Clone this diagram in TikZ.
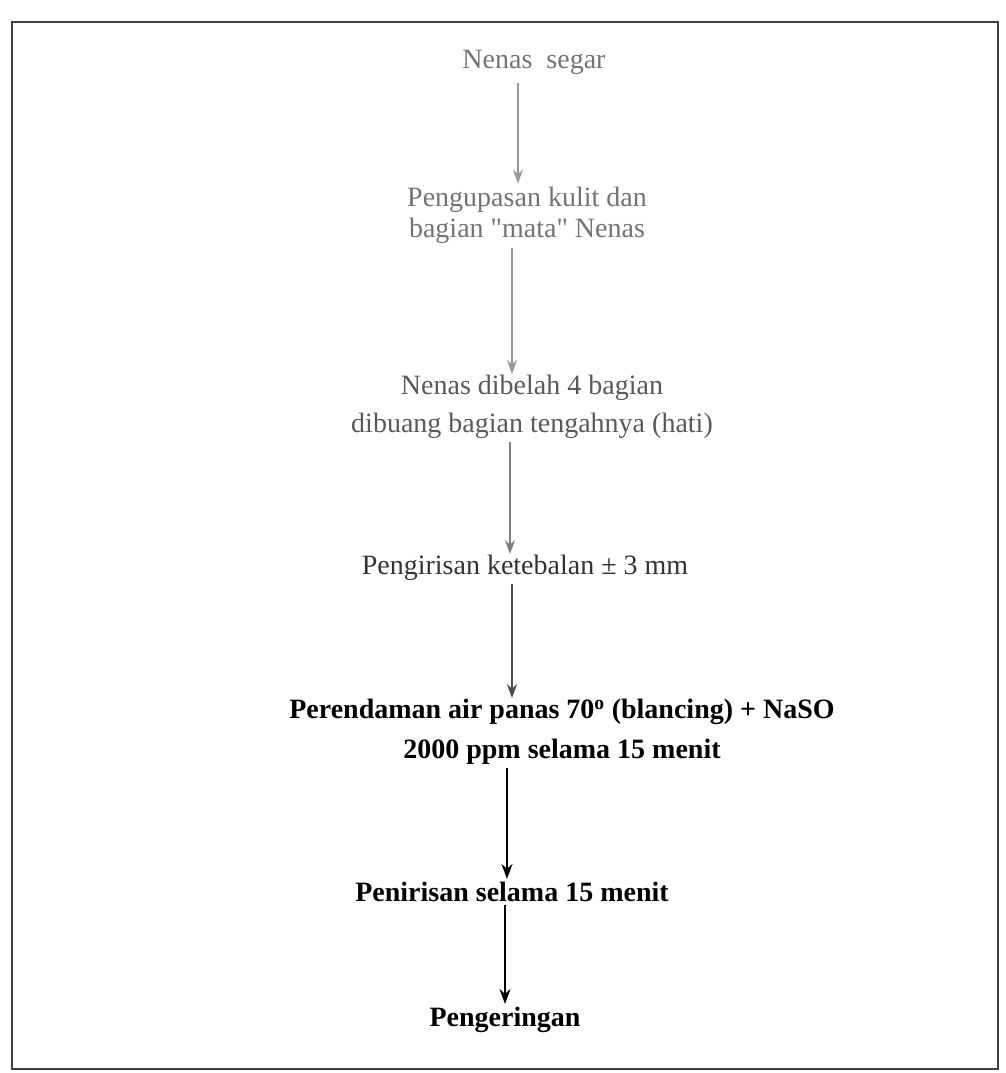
\documentclass[tikz,border=0pt]{standalone}
\usepackage{fontspec}
\setmainfont{Liberation Serif}
\usetikzlibrary{arrows.meta}

\begin{document}
\begin{tikzpicture}[
    x=1pt, y=-1pt,
    stepbox/.style={align=center, inner sep=3pt, font=\fontsize{28}{31}\selectfont},
    faint/.style={stepbox, text=black!55},
    dark/.style={stepbox, text=black, font=\bfseries\fontsize{28}{40}\selectfont},
    flow/.style={-{Stealth[length=14pt, width=10pt]}, line width=1.2pt, black!40},
    flowdark/.style={-{Stealth[length=15pt, width=11pt]}, line width=1.8pt, black}
]
\useasboundingbox (0,0) rectangle (1005,1073);
\draw[line width=2.2pt, black!75] (12,22) rectangle (998,1069);

\node[faint] (segar) at (534,62) {Nenas\ \ segar};
\node[faint] (kupas) at (527,215) {Pengupasan kulit dan\\bagian \textquotedbl mata\textquotedbl\ Nenas};
\node[faint, text=black!65, font=\fontsize{28}{38}\selectfont] (belah) at (532,407) {Nenas dibelah 4 bagian\\dibuang bagian tengahnya (hati)};
\node[faint, text=black!80] (iris) at (525,568) {Pengirisan ketebalan ± 3 mm};
\node[dark] (rendam) at (562,732) {Perendaman air panas 70\textsuperscript{o} (blancing) + NaSO\\2000 ppm selama 15 menit};
\node[dark] (tiris) at (512,892) {Penirisan selama 15 menit};
\node[dark] (kering) at (505,1020) {Pengeringan};

\draw[flow] ([xshift=-16pt, yshift=-6pt]segar.south) -- ([xshift=-9pt]kupas.north);
\draw[flow] ([xshift=-15pt, yshift=-2pt]kupas.south) -- ([xshift=-20pt, yshift=-2pt]belah.north);
\draw[flow, black!50] ([xshift=-22pt]belah.south) -- ([xshift=-15pt, yshift=-2pt]iris.north);
\draw[flow, black!70, line width=1.5pt] ([xshift=-13pt]iris.south) -- ([xshift=-50pt, yshift=-2pt]rendam.north);
\draw[flowdark] ([xshift=-55pt]rendam.south) -- ([xshift=-5pt]tiris.north);
\draw[flowdark] ([xshift=-7pt]tiris.south) -- (kering.north);
\end{tikzpicture}
\end{document}
